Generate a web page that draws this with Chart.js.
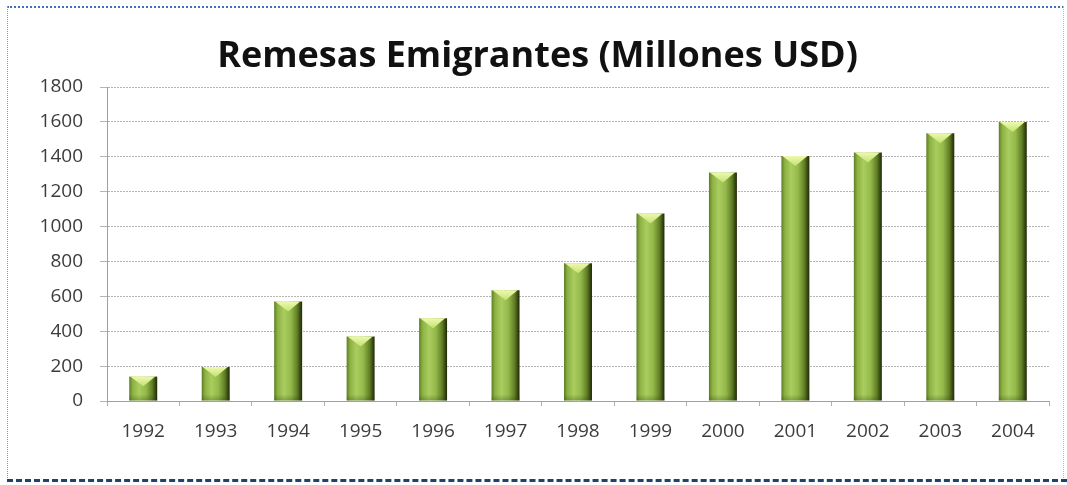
<!DOCTYPE html>
<html>
<head>
<meta charset="utf-8">
<script src="https://cdn.jsdelivr.net/npm/chart.js@4.4.1/dist/chart.umd.min.js"></script>
<style>
  html, body { margin: 0; padding: 0; background: #ffffff; }
  #wrap { position: relative; width: 1067px; height: 485px; overflow: hidden; background: #ffffff; }
  #wrap canvas { position: absolute; left: 0; top: 0; }
  .edge { position: absolute; }
</style>
</head>
<body>
<div id="wrap">
  <div class="edge" style="left:7px; top:6px; width:1057px; height:0; border-top:2px dotted #3f6fb8;"></div>
  <div class="edge" style="left:7px; top:6px; width:0; height:476px; border-left:1px dotted #6f9ad6;"></div>
  <div class="edge" style="left:1063px; top:6px; width:0; height:476px; border-left:1px dotted #9dbde6;"></div>
  <div class="edge" style="left:7px; top:479px; width:1060px; height:0; border-top:3px dashed #23406e;"></div>
  <canvas id="chart" width="1067" height="485"></canvas>
</div>
<script>
// Remittances by year, in millions of USD
const years = ['1992', '1993', '1994', '1995', '1996', '1997', '1998',
               '1999', '2000', '2001', '2002', '2003', '2004'];
const remesas = [140, 195, 570, 370, 475, 635, 790, 1075, 1310, 1405, 1425, 1535, 1600];
const yMax = 1800;
const yStep = 200;
const chartTitle = 'Remesas Emigrantes (Millones USD)';

const BAR_FRACTION = 0.386;

// Horizontal shading for one column, placed from the category scale
function columnGradient(c) {
  const chart = c.chart;
  const xs = chart.scales && chart.scales.x;
  if (!xs || c.dataIndex === undefined) return '#8fb447';
  const cx = xs.getPixelForValue(c.dataIndex);
  const w = (xs.width / years.length) * BAR_FRACTION;
  if (!Number.isFinite(cx) || !Number.isFinite(w) || w <= 0) return '#8fb447';
  const left = cx - w / 2;
  const g = chart.ctx.createLinearGradient(left, 0, left + w, 0);
  g.addColorStop(0.00, '#5d7d24');
  g.addColorStop(0.12, '#8cb042');
  g.addColorStop(0.35, '#a9cd5e');
  g.addColorStop(0.60, '#94b84a');
  g.addColorStop(0.82, '#617f26');
  g.addColorStop(0.94, '#34450f');
  g.addColorStop(1.00, '#1f2807');
  return g;
}

// Pale bevel on top of each column and a slightly darker foot
const columnCaps = {
  id: 'columnCaps',
  afterDatasetsDraw(chart) {
    const ctx = chart.ctx;
    ctx.save();
    chart.getDatasetMeta(0).data.forEach(bar => {
      const left = bar.x - bar.width / 2;
      const right = bar.x + bar.width / 2;
      const top = bar.y;
      const depth = Math.min(10, (bar.base - bar.y) * 0.4);
      const g = ctx.createLinearGradient(0, top, 0, top + depth);
      g.addColorStop(0, '#eef9ae');
      g.addColorStop(1, '#c4e274');
      ctx.beginPath();
      ctx.moveTo(left + 1, top);
      ctx.lineTo(right - 2, top);
      ctx.lineTo(bar.x, top + depth);
      ctx.closePath();
      ctx.fillStyle = g;
      ctx.fill();
      const b = ctx.createLinearGradient(0, bar.base - 6, 0, bar.base);
      b.addColorStop(0, 'rgba(40,60,10,0)');
      b.addColorStop(1, 'rgba(40,60,10,0.3)');
      ctx.fillStyle = b;
      ctx.fillRect(left, bar.base - 6, bar.width, 6);
    });
    ctx.restore();
  }
};

new Chart(document.getElementById('chart'), {
  type: 'bar',
  data: {
    labels: years,
    datasets: [{
      data: remesas,
      backgroundColor: columnGradient,
      borderWidth: 0,
      categoryPercentage: 1.0,
      barPercentage: BAR_FRACTION
    }]
  },
  options: {
    responsive: false,
    animation: false,
    events: [],
    layout: { padding: { left: 26, right: 18, top: 0, bottom: 0 } },
    plugins: {
      legend: { display: false },
      tooltip: { enabled: false },
      title: {
        display: true,
        text: chartTitle,
        color: '#111111',
        font: { family: 'Open Sans', size: 36, weight: 'bold', lineHeight: 1.2 },
        padding: { top: 35, bottom: 8.8 }
      }
    },
    scales: {
      x: {
        grid: {
          display: true,
          drawOnChartArea: false,
          drawTicks: true,
          tickLength: 5,
          offset: true,
          color: '#b0b0b0'
        },
        border: { display: true, color: '#a0a0a0', dash: [2, 1], width: 1 },
        ticks: {
          color: '#3c3c3c',
          font: { family: 'Open Sans', size: 19 },
          padding: 14,
          maxRotation: 0
        },
        afterFit(scale) { scale.height = 84; }
      },
      y: {
        min: 0,
        max: yMax,
        grid: {
          color: '#b4b4b4',
          lineWidth: 1,
          tickLength: 7,
          drawTicks: true
        },
        border: { display: true, color: '#a0a0a0', dash: [2, 1], width: 1 },
        ticks: {
          stepSize: yStep,
          color: '#3c3c3c',
          font: { family: 'Open Sans', size: 19 },
          padding: 17,
          callback: v => String(v)
        },
        afterFit(scale) { scale.width = 81; }
      }
    }
  },
  plugins: [columnCaps]
});
</script>
</body>
</html>
